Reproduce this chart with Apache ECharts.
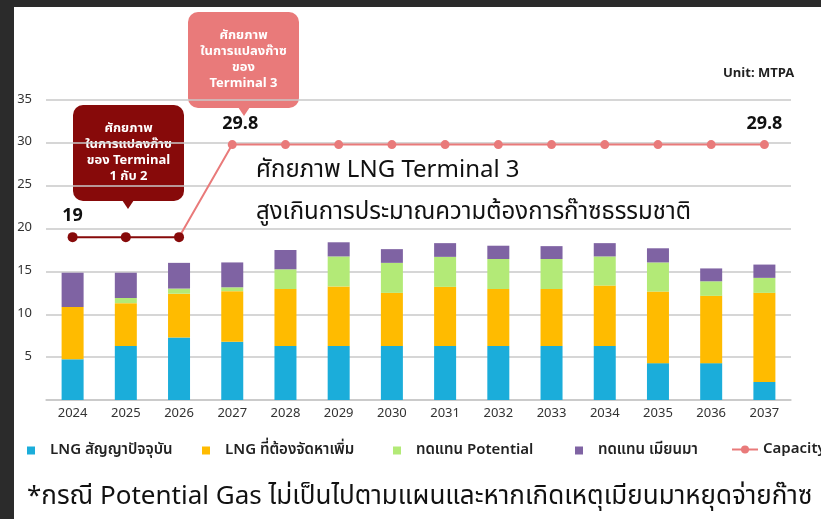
<!DOCTYPE html>
<html>
<head>
<meta charset="utf-8">
<script src="https://cdn.jsdelivr.net/npm/echarts@6/dist/echarts.min.js"></script>
<style>
  html, body { margin: 0; padding: 0; background: #fff; }
  #main { width: 821px; height: 519px; }
</style>
</head>
<body>
<div id="main"></div>
<script>
const years = ['2024', '2025', '2026', '2027', '2028', '2029', '2030', '2031', '2032', '2033', '2034', '2035', '2036', '2037']
// MTPA
const lngContract = [4.75, 6.3, 7.3, 6.8, 6.3, 6.3, 6.3, 6.3, 6.3, 6.3, 6.3, 4.3, 4.3, 2.1]
const lngNew = [6.1, 5.0, 5.1, 5.9, 6.65, 6.95, 6.2, 6.9, 6.65, 6.65, 7.05, 8.35, 7.85, 10.4]
const potential = [0, 0.6, 0.6, 0.45, 2.3, 3.5, 3.5, 3.5, 3.5, 3.5, 3.4, 3.4, 1.7, 1.75]
const myanmar = [4.0, 2.95, 3.0, 2.9, 2.25, 1.65, 1.6, 1.6, 1.55, 1.5, 1.55, 1.65, 1.5, 1.55]
const capacity = [19, 19, 19, 29.8, 29.8, 29.8, 29.8, 29.8, 29.8, 29.8, 29.8, 29.8, 29.8, 29.8]
const terminal12Years = 3 // first years served only by Terminal 1 & 2

const thaiFont = '"Noto Sans Thai", "Noto Sans Thai UI", Loma, Garuda, "Noto Sans", sans-serif'
const colors = {
  contract: '#1badda',
  extra: '#ffbb00',
  potential: '#b3ea77',
  myanmar: '#7f63a3',
  capacity: '#e97a7a',
  old: '#870a0a',
}

const chart = echarts.init(document.getElementById('main'))

const oldCap = capacity.map((v, i) => (i < terminal12Years ? v : '-'))
const newCap = capacity.map((v, i) => {
  if (i < terminal12Years - 1) return '-'
  if (i === terminal12Years - 1) return { value: v, symbol: 'none' }
  return v
})

const capLabel = { show: true, position: 'top', distance: 6, color: '#111', fontSize: 18, fontWeight: 'bold', fontFamily: thaiFont }

function barSeries(name, data, color) {
  return {
    name,
    type: 'bar',
    stack: 'supply',
    barWidth: 22,
    itemStyle: { color },
    data,
  }
}

function legendAt(name, left, isLine) {
  return {
    data: [name],
    left,
    top: isLine ? 442 : 443,
    padding: 0,
    itemWidth: isLine ? 26 : 8,
    itemHeight: isLine ? 10 : 8,
    icon: isLine ? undefined : 'rect',
    selectedMode: false,
    textStyle: {
      fontSize: 15,
      fontWeight: 600,
      color: '#222',
      fontFamily: thaiFont,
      padding: isLine ? 0 : [0, 0, 0, 10],
    },
  }
}

// callout bubble with a down pointer
function bubble(x, y, w, h, tipX, tipY, color, text) {
  return {
    type: 'group',
    children: [
      { type: 'rect', shape: { x, y, width: w, height: h, r: 10 }, style: { fill: color } },
      { type: 'polygon', shape: { points: [[tipX - 6, y + h - 1], [tipX + 6, y + h - 1], [tipX, tipY]] }, style: { fill: color } },
      {
        type: 'text',
        x: x + w / 2,
        y: y + h / 2,
        style: {
          text,
          fill: '#fff',
          font: 'bold 13px ' + thaiFont,
          align: 'center',
          verticalAlign: 'middle',
          lineHeight: 16,
        },
      },
    ],
  }
}

chart.setOption({
  animation: false,
  backgroundColor: '#fff',
  grid: { left: 46, right: 30, top: 100, bottom: 119 },
  legend: [
    legendAt('LNG สัญญาปัจจุบัน', 27),
    legendAt('LNG ที่ต้องจัดหาเพิ่ม', 202),
    legendAt('ทดแทน Potential', 393),
    legendAt('ทดแทน เมียนมา', 575),
    legendAt('Capacity', 731, true),
  ],
  xAxis: {
    type: 'category',
    data: years,
    axisTick: { show: false },
    axisLine: { lineStyle: { color: '#c8c8c8', width: 1.5 } },
    axisLabel: { color: '#333', fontSize: 13, margin: 8, fontFamily: thaiFont },
  },
  yAxis: {
    type: 'value',
    min: 0,
    max: 35,
    interval: 5,
    axisLabel: {
      color: '#333',
      fontSize: 13,
      margin: 14,
      fontFamily: thaiFont,
      formatter: v => (v === 0 ? '' : v),
    },
    splitLine: { lineStyle: { color: '#c8c8c8', width: 1.5 } },
  },
  series: [
    barSeries('LNG สัญญาปัจจุบัน', lngContract, colors.contract),
    barSeries('LNG ที่ต้องจัดหาเพิ่ม', lngNew, colors.extra),
    barSeries('ทดแทน Potential', potential, colors.potential),
    barSeries('ทดแทน เมียนมา', myanmar, colors.myanmar),
    {
      name: 'Capacity',
      type: 'line',
      data: newCap,
      symbol: 'circle',
      symbolSize: 9,
      itemStyle: { color: colors.capacity },
      lineStyle: { color: colors.capacity, width: 2 },
      label: Object.assign({}, capLabel, {
        formatter: p => (p.dataIndex === terminal12Years || p.dataIndex === years.length - 1 ? p.value : ''),
      }),
      labelLayout: p => (p.dataIndex === terminal12Years ? { dx: 8 } : {}),
      z: 3,
    },
    {
      name: 'Capacity T1-2',
      type: 'line',
      data: oldCap,
      symbol: 'circle',
      symbolSize: 10,
      itemStyle: { color: colors.old },
      lineStyle: { color: colors.old, width: 2 },
      label: Object.assign({}, capLabel, {
        formatter: p => (p.dataIndex === 0 ? p.value : ''),
      }),
      z: 4,
    },
  ],
  graphic: [
    { type: 'rect', shape: { x: 0, y: 0, width: 821, height: 7 }, style: { fill: '#2b2b2b' }, z: 100 },
    { type: 'rect', shape: { x: 0, y: 0, width: 14, height: 519 }, style: { fill: '#2b2b2b' }, z: 100 },
    bubble(73, 105, 111, 96, 128, 209, colors.old, 'ศักยภาพ\nในการแปลงก๊าซ\nของ Terminal\n1 กับ 2'),
    bubble(188, 12, 111, 96, 244, 116, colors.capacity, 'ศักยภาพ\nในการแปลงก๊าซ\nของ\nTerminal 3'),
    {
      type: 'text',
      left: 723,
      top: 68,
      style: { text: 'Unit: MTPA', font: 'bold 13px ' + thaiFont, fill: '#222' },
    },
    {
      type: 'text',
      x: 256,
      y: 172,
      style: { text: 'ศักยภาพ LNG Terminal 3', font: '24px ' + thaiFont, fill: '#111', verticalAlign: 'middle' },
    },
    {
      type: 'text',
      x: 256,
      y: 214,
      style: { text: 'สูงเกินการประมาณความต้องการก๊าซธรรมชาติ', font: '24px ' + thaiFont, fill: '#111', verticalAlign: 'middle' },
    },
    {
      type: 'text',
      x: 27,
      y: 499,
      style: { text: '*กรณี Potential Gas ไม่เป็นไปตามแผนและหากเกิดเหตุเมียนมาหยุดจ่ายก๊าซ', font: '26px ' + thaiFont, fill: '#111', verticalAlign: 'middle' },
    },
  ],
})
</script>
</body>
</html>
